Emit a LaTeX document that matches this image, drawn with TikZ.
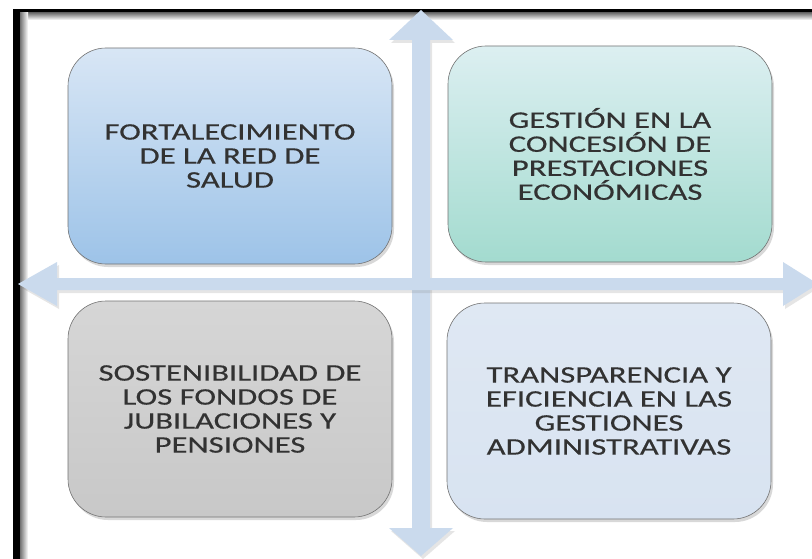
\documentclass[tikz,border=0pt]{standalone}
\usepackage{fontspec}
\newfontfamily\boxfont[FakeStretch=1.38,FakeBold=0.4]{Carlito}
\usetikzlibrary{shadows}
\definecolor{axisblue}{RGB}{202,218,237}
\definecolor{textgray}{RGB}{50,50,50}

\begin{document}
\begin{tikzpicture}[x=1pt,y=-1pt,
  box/.style={rounded corners=38pt,minimum width=324pt,minimum height=216pt,
    draw=black!55,line width=0.6pt,align=center,text=textgray,
    font=\boxfont\fontsize{23.7}{24}\selectfont,
    drop shadow={opacity=0.3,shadow xshift=2pt,shadow yshift=-3pt}},
  axis/.style={fill=axisblue,drop shadow={opacity=0.2,shadow xshift=2pt,shadow yshift=-3pt}}]
\useasboundingbox (0,0) rectangle (812,559);
\fill[white] (0,0) rectangle (812,559);

% frame
\fill[black] (13,9) rectangle (820,13);
\fill[black] (13,9) rectangle (20,570);
\shade[top color=black!55,bottom color=white] (20,13) rectangle (820,20);
\shade[left color=black!55,right color=white] (20,13) rectangle (28,570);

% axes
\path[axis] (412,40) -- (389,40) -- (421,10) -- (453,40) -- (430,40)
 -- (430,528) -- (453,528) -- (421,556) -- (389,528) -- (412,528) -- cycle;
\path[axis] (18,284) -- (57,262) -- (57,278) -- (783,278) -- (783,262)
 -- (818,284) -- (783,306) -- (783,290) -- (57,290) -- (57,306) -- cycle;

% quadrants
\node[box,top color={rgb,255:red,216;green,230;blue,245},bottom color={rgb,255:red,157;green,195;blue,232}]
 (salud) at (230,156) {FORTALECIMIENTO\\DE LA RED DE\\SALUD};
\node[box,top color={rgb,255:red,220;green,239;blue,241},bottom color={rgb,255:red,163;green,219;blue,207}]
 (prestaciones) at (610,154) {GESTIÓN EN LA\\CONCESIÓN DE\\PRESTACIONES\\ECONÓMICAS};
\node[box,top color={rgb,255:red,214;green,214;blue,214},bottom color={rgb,255:red,200;green,200;blue,200}]
 (fondos) at (230,409) {SOSTENIBILIDAD DE\\LOS FONDOS DE\\JUBILACIONES Y\\PENSIONES};
\node[box,top color={rgb,255:red,223;green,232;blue,243},bottom color={rgb,255:red,216;green,227;blue,241}]
 (gestiones) at (609,411) {TRANSPARENCIA Y\\EFICIENCIA EN LAS\\GESTIONES\\ADMINISTRATIVAS};
\end{tikzpicture}
\end{document}
